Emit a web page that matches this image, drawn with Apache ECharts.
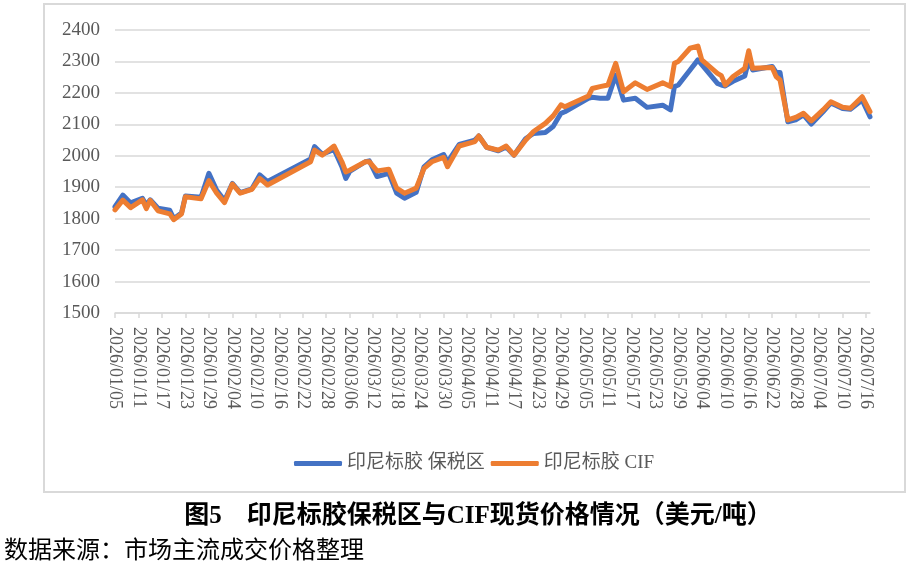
<!DOCTYPE html>
<html>
<head>
<meta charset="utf-8">
<script src="https://cdn.jsdelivr.net/npm/echarts@6/dist/echarts.min.js"></script>
<style>
  html, body { margin: 0; padding: 0; background: #fff; }
  #figureWrapper { width: 916px; height: 569px; }
</style>
</head>
<body>
<div id="figureWrapper"></div>
<script>
// axis range
const first_day = '2026/01/05';
const last_day = '2026/07/17';

// price readings (USD / ton)
const dates = ['2026/01/05','2026/01/07','2026/01/09','2026/01/12','2026/01/13','2026/01/14','2026/01/16','2026/01/19','2026/01/20','2026/01/22',
  '2026/01/23','2026/01/27','2026/01/29','2026/01/31','2026/02/02','2026/02/04','2026/02/06','2026/02/09','2026/02/11','2026/02/13',
  '2026/02/24','2026/02/25','2026/02/27','2026/03/02','2026/03/04','2026/03/05','2026/03/06','2026/03/10','2026/03/11','2026/03/13',
  '2026/03/16','2026/03/18','2026/03/20','2026/03/23','2026/03/25','2026/03/27','2026/03/30','2026/03/31','2026/04/03','2026/04/07',
  '2026/04/08','2026/04/10','2026/04/13','2026/04/15','2026/04/17','2026/04/20','2026/04/22','2026/04/25','2026/04/27','2026/04/29',
  '2026/04/30','2026/05/06','2026/05/07','2026/05/09','2026/05/11','2026/05/13','2026/05/15','2026/05/18','2026/05/21','2026/05/25',
  '2026/05/27','2026/05/28','2026/05/29','2026/06/01','2026/06/03','2026/06/04','2026/06/08','2026/06/09','2026/06/10','2026/06/12',
  '2026/06/15','2026/06/16','2026/06/17','2026/06/22','2026/06/23','2026/06/24','2026/06/26','2026/06/28','2026/06/30','2026/07/02',
  '2026/07/05','2026/07/07','2026/07/10','2026/07/12','2026/07/15','2026/07/17'];

const bonded = [1838,1875,1850,1865,1843,1860,1833,1827,1800,1818,
  1872,1868,1944,1890,1858,1912,1883,1895,1939,1918,
  1990,2029,2005,2020,1965,1928,1950,1981,1984,1934,
  1944,1881,1865,1884,1965,1987,2004,1980,2036,2050,
  2063,2027,2016,2028,2002,2055,2071,2074,2093,2135,
  2140,2183,2186,2183,2183,2257,2177,2183,2154,2161,
  2146,2220,2225,2273,2305,2290,2230,2225,2222,2237,
  2254,2305,2273,2284,2265,2265,2108,2114,2130,2101,
  2140,2168,2150,2148,2177,2124];

const cif = [1828,1859,1835,1860,1832,1858,1825,1815,1797,1815,
  1870,1863,1921,1881,1851,1910,1881,1893,1928,1907,
  1981,2018,2002,2031,1981,1949,1954,1981,1981,1952,
  1957,1897,1881,1897,1960,1981,1995,1965,2031,2045,
  2063,2027,2018,2031,2002,2050,2077,2103,2127,2162,
  2156,2190,2214,2220,2225,2294,2204,2232,2211,2232,
  2220,2294,2300,2342,2349,2305,2262,2255,2225,2252,
  2278,2334,2278,2281,2252,2241,2114,2122,2135,2111,
  2146,2172,2154,2151,2188,2140];

const series_names = ['印尼标胶 保税区', '印尼标胶 CIF'];
const y_min = 1500;
const y_max = 2400;
const y_step = 100;
const label_every = 6;

const title_text = '图5\u3000印尼标胶保税区与CIF现货价格情况（美元/吨）';
const source_text = '数据来源：市场主流成交价格整理';

function fmt(d){
  const m = String(d.getUTCMonth() + 1).padStart(2, '0');
  const day = String(d.getUTCDate()).padStart(2, '0');
  return d.getUTCFullYear() + '/' + m + '/' + day;
}

function calendar_days(a, b){
  let out = [];
  let d = new Date(a.replace(/\//g, '-') + 'T00:00:00Z');
  const end = new Date(b.replace(/\//g, '-') + 'T00:00:00Z');
  while (d <= end){
    out.push(fmt(d));
    d = new Date(d.getTime() + 86400000);
  }
  return out;
}

function on_days(days, values){
  let lookup = {};
  dates.forEach((t, i) => { lookup[t] = values[i]; });
  return days.map((t) => (t in lookup ? lookup[t] : null));
}

const days = calendar_days(first_day, last_day);
const every_sixth = (i) => i % label_every === 0;

let myChart = echarts.init(document.getElementById('figureWrapper'), null, { renderer: 'canvas' });

const grey_text = '#595959';
const grid_grey = '#d9d9d9';

let option = {
  animation: false,
  color: ['#4472C4', '#ED7D31'],
  grid: { left: 115, right: 46, top: 30, bottom: 256 },
  graphic: [
    {
      type: 'rect', silent: true, z: -10,
      shape: { x: 44, y: 4, width: 861, height: 488 },
      style: { fill: 'none', stroke: grid_grey, lineWidth: 2 }
    },
    {
      type: 'text', x: 478, y: 517,
      style: {
        text: title_text, textAlign: 'center', textVerticalAlign: 'middle',
        font: "bold 25px 'Liberation Serif', 'Noto Sans CJK SC'", fill: '#000'
      }
    },
    {
      type: 'text', x: 4, y: 549,
      style: {
        text: source_text, textAlign: 'left', textVerticalAlign: 'middle',
        font: "24px 'Noto Sans CJK SC'", fill: '#000'
      }
    }
  ],
  legend: {
    left: 289,
    top: 449,
    icon: 'roundRect',
    itemWidth: 48,
    itemHeight: 5,
    itemGap: 6,
    textStyle: { color: grey_text, fontSize: 19, fontFamily: "'Liberation Serif', 'Noto Sans CJK SC'" },
    data: series_names
  },
  xAxis: {
    type: 'category',
    data: days,
    boundaryGap: false,
    axisLine: { lineStyle: { color: grid_grey, width: 1.5 } },
    axisTick: { show: true, interval: every_sixth, length: 5, lineStyle: { color: grid_grey, width: 1.5 } },
    axisLabel: {
      interval: every_sixth,
      rotate: -90,
      margin: 14,
      color: grey_text,
      fontSize: 18,
      fontFamily: "'Liberation Serif'"
    },
    splitLine: { show: false }
  },
  yAxis: {
    type: 'value',
    min: y_min,
    max: y_max,
    interval: y_step,
    axisLine: { show: false },
    axisTick: { show: false },
    axisLabel: {
      color: grey_text, fontSize: 19, fontFamily: "'Liberation Serif'", margin: 15,
      formatter: (v) => String(v)
    },
    splitLine: { lineStyle: { color: grid_grey, width: 1.5 } }
  },
  series: [
    {
      name: series_names[0],
      type: 'line',
      data: on_days(days, bonded),
      connectNulls: true,
      showSymbol: false,
      lineStyle: { width: 5, join: 'round', cap: 'round' }
    },
    {
      name: series_names[1],
      type: 'line',
      data: on_days(days, cif),
      connectNulls: true,
      showSymbol: false,
      lineStyle: { width: 5, join: 'round', cap: 'round' }
    }
  ]
};

myChart.setOption(option);
</script>
</body>
</html>
